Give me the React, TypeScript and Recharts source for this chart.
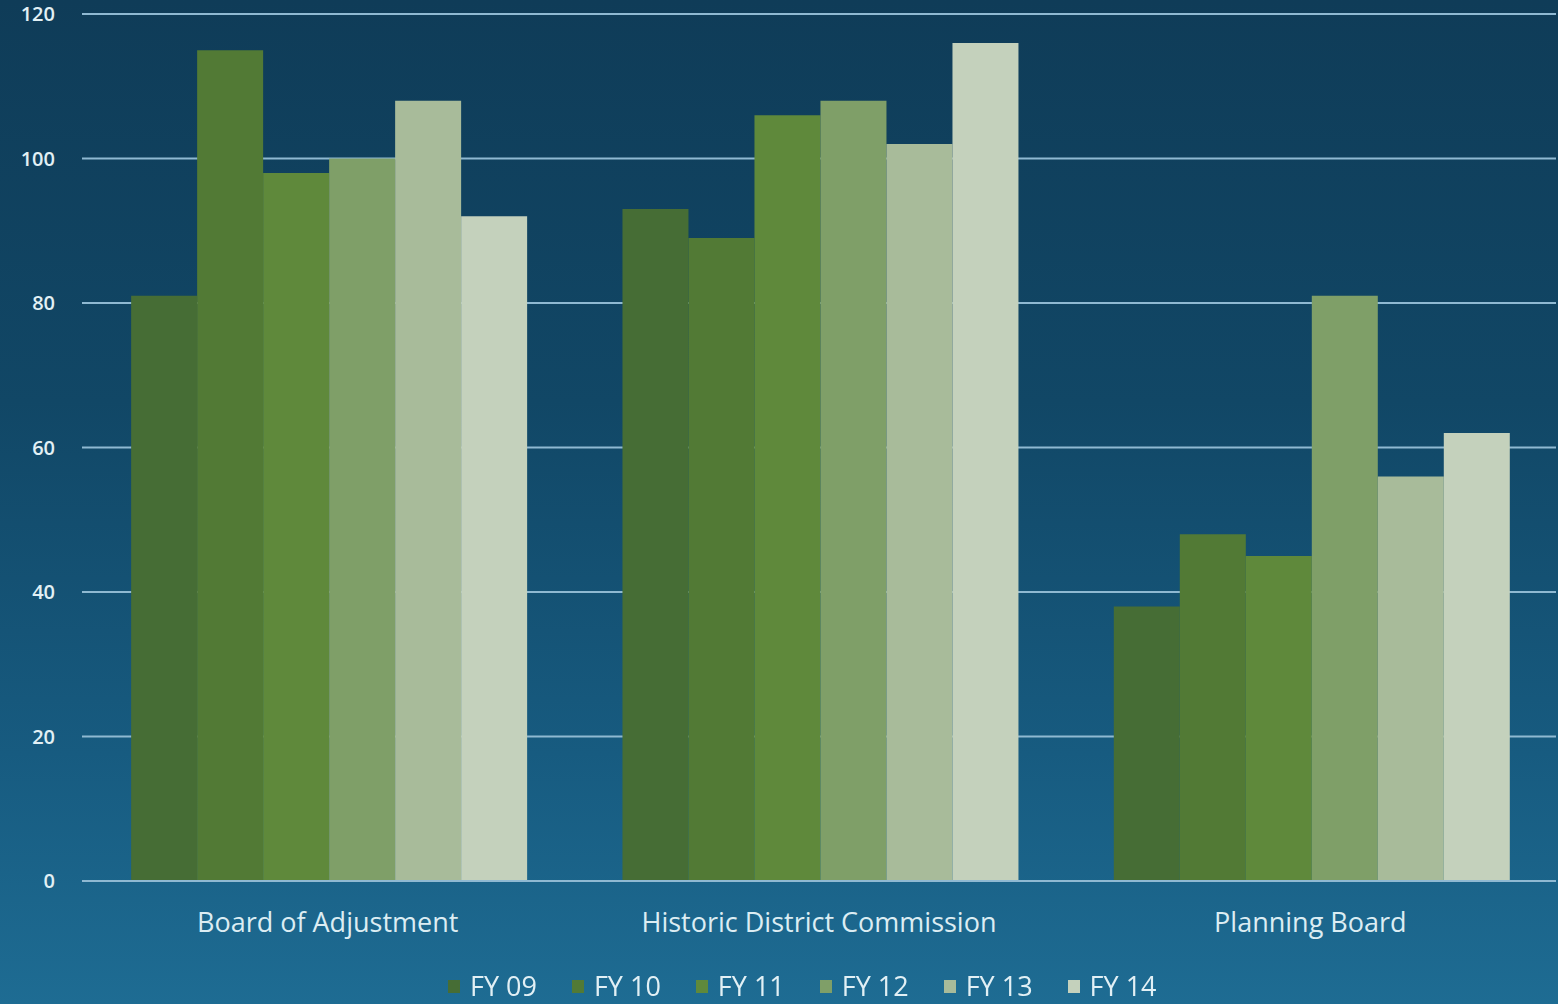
import React from "react";
import { BarChart, Bar, XAxis, YAxis, CartesianGrid } from "recharts";

const categories = ["Board of Adjustment", "Historic District Commission", "Planning Board"];
const seriesNames = ["FY 09", "FY 10", "FY 11", "FY 12", "FY 13", "FY 14"];
const fy09 = [81, 93, 38];
const fy10 = [115, 89, 48];
const fy11 = [98, 106, 45];
const fy12 = [100, 108, 81];
const fy13 = [108, 102, 56];
const fy14 = [92, 116, 62];
const yTicks = [0, 20, 40, 60, 80, 100, 120];
const colors = ["#466d35", "#527a35", "#5f893b", "#7f9f68", "#a8bb9a", "#c4d1bc"];

const seriesValues = [fy09, fy10, fy11, fy12, fy13, fy14];
const keys = ["fy09", "fy10", "fy11", "fy12", "fy13", "fy14"];

const data = categories.map((name, i) => {
  const row: Record<string, any> = { name };
  keys.forEach((k, s) => {
    row[k] = seriesValues[s][i];
  });
  return row;
});

const FONT = "'Open Sans', 'Noto Sans', sans-serif";

export default function App() {
  return (
    <div
      style={{
        position: "fixed",
        left: 0,
        top: 0,
        width: 1558,
        height: 1004,
        background: "linear-gradient(180deg, #0f3c58 0%, #114766 40%, #175b80 75%, #1e6c93 100%)",
        fontFamily: FONT,
      }}
    >
      <BarChart
        width={1558}
        height={1004}
        data={data}
        margin={{ top: 14, right: 2, bottom: 93, left: 0 }}
        barCategoryGap="10%"
        barGap={0}
      >
        <CartesianGrid
          horizontal={true}
          vertical={false}
          stroke="#8fb9d2"
          strokeWidth={2}
        />
        <XAxis
          dataKey="name"
          height={30}
          axisLine={{ stroke: "#8fb9d2", strokeWidth: 2 }}
          tickLine={false}
          tickMargin={26}
          tick={{ fill: "#dcedf3", fontSize: 27, fontFamily: FONT }}
        />
        <YAxis
          width={82}
          domain={[0, 120]}
          ticks={yTicks}
          axisLine={false}
          tickLine={false}
          tickSize={0}
          tickMargin={27}
          tick={{ fill: "#e2f0f5", fontSize: 20, fontWeight: 600, fontFamily: FONT }}
        />
        {keys.map((k, i) => (
          <Bar
            key={k}
            dataKey={k}
            name={seriesNames[i]}
            fill={colors[i]}
            isAnimationActive={false}
          />
        ))}
      </BarChart>
      <div
        style={{
          position: "absolute",
          top: 966,
          left: 448,
          display: "flex",
          gap: 35,
          color: "#e2f0f5",
          fontSize: 27,
          fontFamily: FONT,
          lineHeight: "40px",
        }}
      >
        {seriesNames.map((n, i) => (
          <div key={n} style={{ display: "flex", alignItems: "center" }}>
            <span
              style={{
                display: "inline-block",
                width: 12,
                height: 13,
                background: colors[i],
                marginRight: 10,
              }}
            />
            <span>{n}</span>
          </div>
        ))}
      </div>
    </div>
  );
}
